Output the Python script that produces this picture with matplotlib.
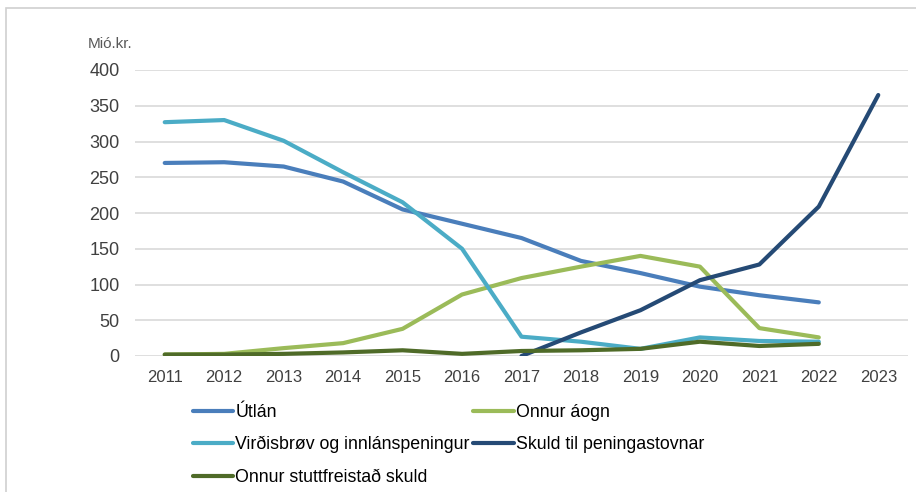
import matplotlib
matplotlib.use("Agg")
import matplotlib.pyplot as plt
from matplotlib.patches import Rectangle

plt.rcParams['font.family'] = ['Liberation Sans', 'DejaVu Sans']

years = [2011, 2012, 2013, 2014, 2015, 2016, 2017, 2018, 2019, 2020, 2021, 2022, 2023]
utlan = [270, 271, 265, 244, 205, 185, 165, 133, 116, 97, 85, 75]
onnur_aogn = [2, 3, 11, 18, 38, 86, 109, 125, 140, 125, 39, 26]
virdisbrov = [327, 330, 301, 257, 215, 150, 27, 20, 10, 26, 21, 20]
skuld_years = [2017, 2018, 2019, 2020, 2021, 2022, 2023]
skuld_pen = [0, 33, 64, 106, 128, 209, 365]
stutt = [2, 2, 3, 5, 8, 3, 7, 8, 10, 20, 14, 17]

labels = ["Útlán", "Onnur áogn", "Virðisbrøv og innlánspeningur",
          "Skuld til peningastovnar", "Onnur stuttfreistað skuld"]
colors = ["#4a7ebb", "#9bbb59", "#4bacc6", "#254a75", "#4f6b28"]

fig = plt.figure(figsize=(9.16, 4.92), dpi=100)
W, H = 916, 492
ax = fig.add_axes([135 / W, 1 - 356 / H, (908 - 135) / W, (356 - 70) / H])

lw = 3.0
l1, = ax.plot(years[:12], utlan, color=colors[0], lw=lw, solid_capstyle='round', zorder=3)
l2, = ax.plot(years[:12], onnur_aogn, color=colors[1], lw=lw, solid_capstyle='round', zorder=3)
l3, = ax.plot(years[:12], virdisbrov, color=colors[2], lw=lw, solid_capstyle='round', zorder=3)
l4, = ax.plot(skuld_years, skuld_pen, color=colors[3], lw=lw, solid_capstyle='round', zorder=4)
l5, = ax.plot(years[:12], stutt, color=colors[4], lw=lw, solid_capstyle='round', zorder=5)

ax.set_xlim(2010.5, 2023.5)
ax.set_ylim(0, 400)
ax.set_yticks(range(0, 401, 50))
ax.set_xticks(years)
ax.set_xticklabels([str(y) for y in years])
ax.grid(axis='y', color='#d9d9d9', lw=1.2)
ax.set_axisbelow(True)
for s in ax.spines.values():
    s.set_visible(False)
ax.tick_params(axis='x', length=0, labelsize=12, colors='#404040', pad=10)
ax.tick_params(axis='y', length=0, labelsize=13, colors='#404040', pad=11)

fig.text(88 / W, 1 - 44 / H, "Mió.kr.", fontsize=11, color='#595959', va='center')

handles = [l1, l3, l5, l2, l4]
labs = [labels[0], labels[2], labels[4], labels[1], labels[3]]
leg = fig.legend(handles, labs, ncol=2, loc='upper left',
                 bbox_to_anchor=(193 / W, 1 - 404 / H), frameon=False,
                 fontsize=12.75, handlelength=2.27, handletextpad=0.12,
                 columnspacing=0.2, labelspacing=0.86, borderaxespad=0,
                 borderpad=0)
for t in leg.get_texts():
    t.set_color('#000000')

fig.patches.append(Rectangle((6 / W, -0.1), 1.2, 1 - 8 / H + 0.1, transform=fig.transFigure,
                             fill=False, edgecolor='#d0d0d0', lw=1.2))

fig.savefig("out.png", dpi=100)
